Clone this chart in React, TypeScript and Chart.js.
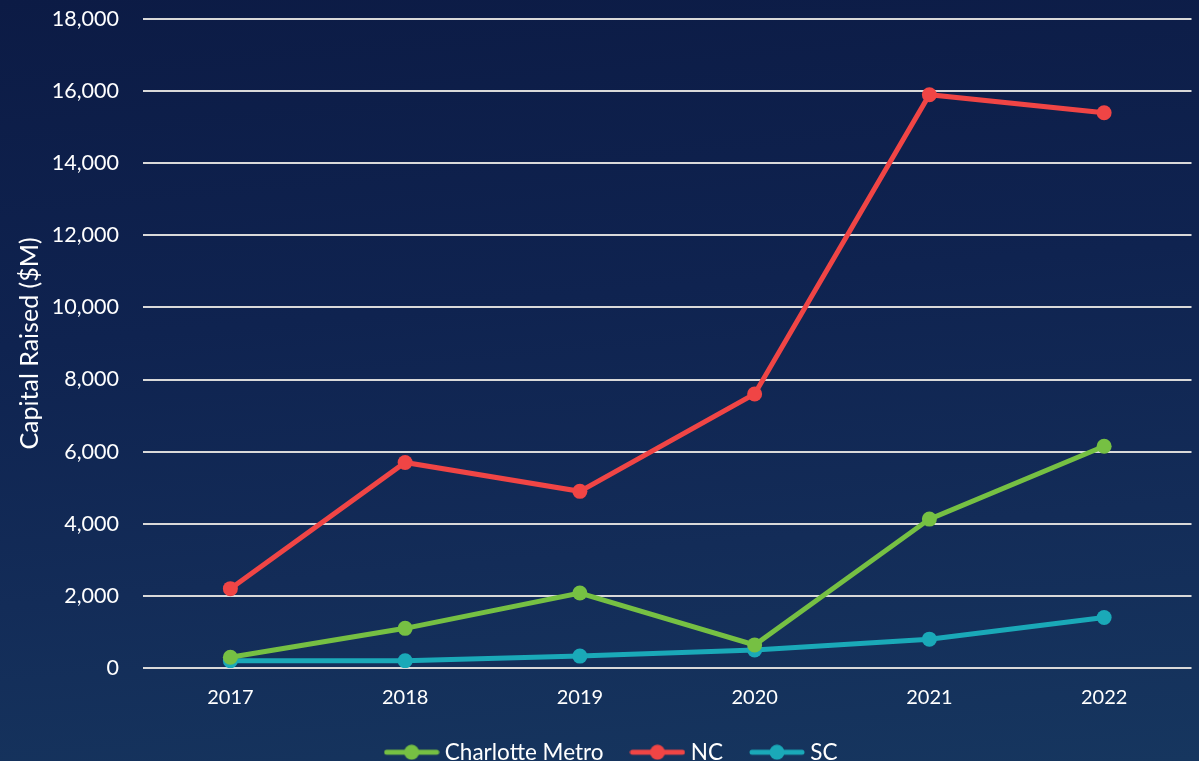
import React, { useEffect, useRef } from "react";
import { Chart, registerables } from "chart.js";

Chart.register(...registerables);

const years = ["2017", "2018", "2019", "2020", "2021", "2022"];
const charlotteMetro = [300, 1100, 2080, 640, 4130, 6150];
const nc = [2200, 5700, 4900, 7600, 15900, 15400];
const sc = [200, 200, 330, 500, 800, 1400];
const seriesNames = ["Charlotte Metro", "NC", "SC"];
const seriesColors = ["#76c043", "#f04545", "#1aa9b8"];

const FONT = "Lato, 'Open Sans', sans-serif";

function makeMarker(color: string): HTMLCanvasElement {
  const c = document.createElement("canvas");
  c.width = 56;
  c.height = 16;
  const ctx = c.getContext("2d")!;
  ctx.strokeStyle = color;
  ctx.lineWidth = 5;
  ctx.lineCap = "round";
  ctx.beginPath();
  ctx.moveTo(3, 8);
  ctx.lineTo(53, 8);
  ctx.stroke();
  ctx.fillStyle = color;
  ctx.beginPath();
  ctx.arc(28, 8, 7.5, 0, Math.PI * 2);
  ctx.fill();
  return c;
}

const legendShift = {
  id: "legendShift",
  afterLayout(chart: any) {
    if (chart.legend) {
      chart.legend.left += 17;
      chart.legend.right += 17;
    }
  },
};

export default function App() {
  const ref = useRef<HTMLCanvasElement>(null);
  useEffect(() => {
    const markers = seriesColors.map(makeMarker);
    const values = [charlotteMetro, nc, sc];
    const chart = new Chart(ref.current!, {
      type: "line",
      data: {
        labels: years,
        datasets: seriesNames.map((name, i) => ({
          label: name,
          data: values[i],
          borderColor: seriesColors[i],
          backgroundColor: seriesColors[i],
          borderWidth: 5,
          pointRadius: 7.5,
          pointHoverRadius: 7.5,
          pointBorderWidth: 0,
          tension: 0,
        })),
      },
      options: {
        animation: false,
        responsive: false,
        maintainAspectRatio: false,
        layout: { padding: { top: 19, right: 6, left: 0, bottom: 0 } },
        scales: {
          x: {
            offset: true,
            grid: { display: false, drawTicks: false },
            border: { display: false },
            ticks: { color: "#ffffff", font: { family: FONT, size: 20 }, padding: 18 },
            afterFit: (s: any) => {
              s.height = 41;
            },
          },
          y: {
            min: 0,
            max: 18000,
            ticks: {
              stepSize: 2000,
              color: "#ffffff",
              font: { family: FONT, size: 21.5 },
              padding: 0,
              callback: (v: any) => Number(v).toLocaleString("en-US"),
            },
            grid: {
              color: "#d9d9d9",
              lineWidth: 2,
              drawTicks: true,
              tickLength: 24,
              tickColor: "rgba(0,0,0,0)",
            },
            border: { display: false },
            title: {
              display: true,
              text: "Capital Raised ($M)",
              color: "#ffffff",
              font: { family: FONT, size: 25 },
              padding: { top: 15, bottom: 0 },
            },
            afterFit: (s: any) => {
              s.width = 143;
            },
          },
        },
        plugins: {
          tooltip: { enabled: false },
          legend: {
            position: "bottom",
            maxHeight: 52,
            labels: {
              color: "#ffffff",
              font: { family: FONT, size: 22.5 },
              usePointStyle: true,
              pointStyleWidth: 44,
              padding: 32,
              generateLabels: (ch: any) =>
                ch.data.datasets.map((d: any, i: number) => ({
                  text: d.label,
                  fillStyle: seriesColors[i],
                  strokeStyle: seriesColors[i],
                  fontColor: "#ffffff",
                  lineWidth: 0,
                  pointStyle: markers[i],
                  hidden: false,
                  datasetIndex: i,
                })),
            },
          },
        },
      } as any,
      plugins: [legendShift],
    });
    return () => chart.destroy();
  }, []);
  return (
    <div
      style={{
        position: "fixed",
        left: 0,
        top: 0,
        width: 1199,
        height: 761,
        background:
          "linear-gradient(175deg, #0c1b45 0%, #0f2350 40%, #132c58 70%, #16365f 100%)",
      }}
    >
      <canvas ref={ref} width={1199} height={761} style={{ display: "block" }} />
    </div>
  );
}
